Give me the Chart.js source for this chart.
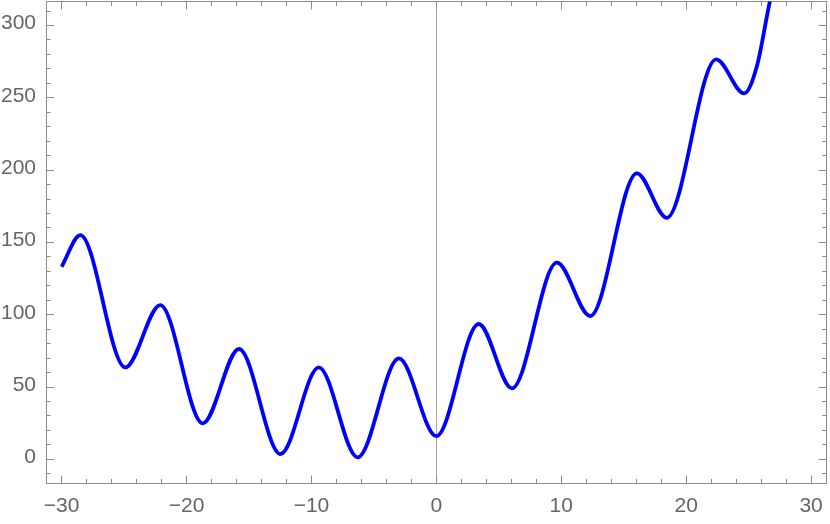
<!DOCTYPE html>
<html>
<head>
<meta charset="utf-8">
<script src="https://cdn.jsdelivr.net/npm/chart.js@4"></script>
<style>
  body { margin: 0; background: #fff; }
  #wrap { width: 830px; height: 524px; }
</style>
</head>
<body>
<div id="wrap"><canvas id="curveChart"></canvas></div>
<script>
// values: the turning points of the curve, plus its end pieces
const xs = [-30, -28.5, -24.9, -22.1, -18.7, -15.8, -12.48, -9.41, -6.3, -3.0,
            0, 3.39, 6.05, 9.65, 12.32, 16.05, 18.45, 22.4, 24.64, 25.65,
            26.7, 27.5];
const ys = [133.2, 155.1, 63.6, 106.7, 24.9, 76.3, 3.7, 63.6, 1.4, 69.8,
            16.1, 93.6, 49.1, 136, 99.1, 197.8, 167, 276.6, 253.1, 271.5,
            316.6, 345];

const xTicks = [-30, -20, -10, 0, 10, 20, 30];
const yTicks = [0, 50, 100, 150, 200, 250, 300];

const xRange = [-31.25, 31.25];
const yRange = [-16.7, 316.6];

const frameGray = '#8c8c8c';
const labelGray = '#666666';

function fmt(v) {
    return v < 0 ? '\u2212' + Math.abs(v) : String(v);
}

// frame axis helper; sizes are fixed so the plot area lands where the reference has it
function frameAxis(axis, position, opts) {
    const horiz = axis === 'x';
    const range = horiz ? xRange : yRange;
    return {
        type: 'linear',
        axis: axis,
        position: position,
        weight: opts.size ? 1 : 0,
        min: range[0],
        max: range[1],
        afterFit: s => {
            if (horiz) s.height = opts.size || 0; else s.width = opts.size || 0;
            s.paddingTop = 0; s.paddingBottom = 0; s.paddingLeft = 0; s.paddingRight = 0;
        },
        afterBuildTicks: opts.list ? (s => { s.ticks = opts.list.map(v => ({ value: v })); }) : undefined,
        border: { display: !!opts.border, color: frameGray, width: 1 },
        grid: {
            drawOnChartArea: !!opts.gridColor,
            color: opts.gridColor || 'transparent',
            tickColor: frameGray,
            tickLength: -opts.len,
            tickWidth: 1
        },
        ticks: {
            display: !!opts.labels,
            stepSize: opts.step,
            includeBounds: false,
            autoSkip: false,
            maxRotation: 0,
            padding: opts.pad || 0,
            labelOffset: opts.labelOffset || 0,
            color: labelGray,
            font: { family: 'Liberation Sans', size: 21 },
            callback: fmt
        }
    };
}

const ctx = document.getElementById('curveChart').getContext('2d');
new Chart(ctx, {
    type: 'line',
    data: {
        datasets: [{
            data: xs.map((x, i) => ({ x: x, y: ys[i] })),
            borderColor: '#0000ff',
            borderWidth: 3.8,
            pointRadius: 0,
            fill: false,
            cubicInterpolationMode: 'monotone'
        }]
    },
    options: {
        responsive: true,
        maintainAspectRatio: false,
        animation: false,
        layout: { padding: { left: 0, right: 3.3, top: 1.5, bottom: 0 } },
        plugins: { legend: { display: false }, tooltip: { enabled: false } },
        scales: {
            x: frameAxis('x', 'bottom', {
                list: xTicks, len: 8, labels: true, border: true, pad: 18, size: 40.5,
                gridColor: c => (c.tick && c.tick.value === 0 ? '#a6a6a6' : 'transparent')
            }),
            xMinor: frameAxis('x', 'bottom', { step: 2, len: 4.5 }),
            xTop: frameAxis('x', 'top', { list: xTicks, len: 8, border: true }),
            xTopMinor: frameAxis('x', 'top', { step: 2, len: 4.5 }),
            y: frameAxis('y', 'left', {
                list: yTicks, len: 8, labels: true, border: true, pad: 18, size: 46, labelOffset: -2
            }),
            yMinor: frameAxis('y', 'left', { step: 10, len: 4.5 }),
            yRight: frameAxis('y', 'right', { list: yTicks, len: 8, border: true }),
            yRightMinor: frameAxis('y', 'right', { step: 10, len: 4.5 })
        }
    }
});
</script>
</body>
</html>
